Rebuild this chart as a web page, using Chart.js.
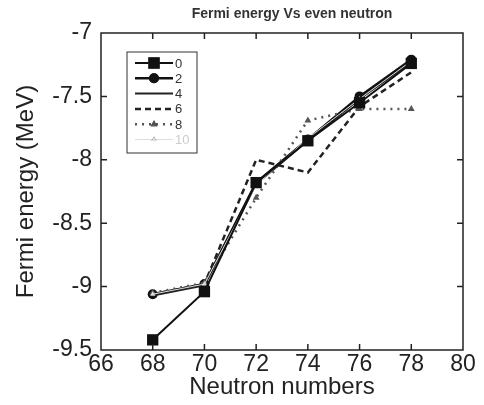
<!DOCTYPE html>
<html>
<head>
<meta charset="utf-8">
<script src="https://cdn.jsdelivr.net/npm/chart.js@4.4.0/dist/chart.umd.min.js"></script>
<style>
  html, body { margin: 0; padding: 0; background: #fff; }
  #wrap { width: 484px; height: 405px; }
</style>
</head>
<body>
<div id="wrap"><canvas id="fermi-chart"></canvas></div>
<script>
// neutron numbers on the x axis
const neutrons = [68, 70, 72, 74, 76, 78];
// one curve per legend entry
const seriesLabels = ['0', '2', '4', '6', '8', '10'];
const fermi0 = [-9.42, -9.04, -8.18, -7.85, -7.55, -7.24];
const fermi2 = [-9.06, -8.98, -8.18, -7.84, -7.50, -7.21];
const fermi4 = [-9.07, -8.99, -8.19, -7.85, -7.52, -7.23];
const fermi6 = [-9.06, -8.98, -8.00, -8.10, -7.58, -7.31];
const fermi8 = [-9.05, -8.97, -8.30, -7.69, -7.60, -7.60];
const fermi10 = [-9.06, -8.98, -8.20, -7.83, -7.52, -7.22];
const xTicks = [66, 68, 70, 72, 74, 76, 78, 80];
const yTicks = [-9.5, -9, -8.5, -8, -7.5, -7];

const FONT = '"Liberation Sans", Arial, sans-serif';

function points(values) {
  return neutrons.map((n, i) => ({ x: n, y: values[i] }));
}

const datasets = [
  { label: seriesLabels[0], data: points(fermi0), borderColor: '#111', backgroundColor: '#111',
    borderWidth: 2, pointStyle: 'rect', pointRadius: 8, borderDash: [] },
  { label: seriesLabels[1], data: points(fermi2), borderColor: '#111', backgroundColor: '#111',
    borderWidth: 2.5, pointStyle: 'circle', pointRadius: 5, borderDash: [] },
  { label: seriesLabels[2], data: points(fermi4), borderColor: '#222', backgroundColor: '#222',
    borderWidth: 2, pointRadius: 0, borderDash: [] },
  { label: seriesLabels[3], data: points(fermi6), borderColor: '#222', backgroundColor: '#222',
    borderWidth: 2.5, pointRadius: 0, borderDash: [6, 4] },
  { label: seriesLabels[4], data: points(fermi8), borderColor: '#555', backgroundColor: '#555',
    borderWidth: 2.5, pointStyle: 'triangle', pointRadius: 4, borderDash: [2, 5] },
  { label: seriesLabels[5], data: points(fermi10), borderColor: '#ddd', backgroundColor: '#ddd',
    borderWidth: 1, pointStyle: 'triangle', pointRadius: 3, borderDash: [] }
].map(d => Object.assign({ fill: false, tension: 0, pointBorderWidth: 0 }, d));

// draw order: light curve first, squares last
datasets.forEach((d, i) => { d.order = i === 0 ? 0 : 10 - i; });

// box, inward ticks, title and inset legend
const framePlugin = {
  id: 'frame',
  afterDraw(chart) {
    const ctx = chart.ctx;
    const a = chart.chartArea;
    const xs = chart.scales.x, ys = chart.scales.y;
    ctx.save();
    ctx.strokeStyle = '#222';
    ctx.lineWidth = 1.5;
    ctx.setLineDash([]);
    ctx.strokeRect(a.left, a.top, a.right - a.left, a.bottom - a.top);
    const tl = 6;
    ctx.beginPath();
    xTicks.slice(1, -1).forEach(v => {
      const px = xs.getPixelForValue(v);
      ctx.moveTo(px, a.bottom); ctx.lineTo(px, a.bottom - tl);
      ctx.moveTo(px, a.top); ctx.lineTo(px, a.top + tl);
    });
    yTicks.slice(1, -1).forEach(v => {
      const py = ys.getPixelForValue(v);
      ctx.moveTo(a.left, py); ctx.lineTo(a.left + tl, py);
      ctx.moveTo(a.right, py); ctx.lineTo(a.right - tl, py);
    });
    ctx.stroke();

    // title
    ctx.fillStyle = '#333';
    ctx.font = 'bold 14px ' + FONT;
    ctx.textAlign = 'center';
    ctx.textBaseline = 'middle';
    ctx.fillText('Fermi energy Vs even neutron', 292, 14);

    // legend
    const bx = a.left + 26, by = a.top + 19, bw = 70, bh = 101;
    ctx.lineWidth = 1;
    ctx.strokeStyle = '#333';
    ctx.strokeRect(bx, by, bw, bh);
    ctx.font = '13px ' + FONT;
    ctx.textAlign = 'left';
    chart.data.datasets.forEach((d, i) => {
      const y = by + 11 + i * 15.3;
      ctx.strokeStyle = d.borderColor;
      ctx.lineWidth = d.borderWidth;
      ctx.setLineDash(d.borderDash);
      ctx.beginPath();
      ctx.moveTo(bx + 8, y); ctx.lineTo(bx + 46, y);
      ctx.stroke();
      ctx.setLineDash([]);
      if (d.pointRadius > 0) {
        Chart.helpers.drawPoint(ctx, {
          pointStyle: d.pointStyle, radius: d.pointRadius, rotation: 0, borderWidth: 0
        }, bx + 27, y);
        ctx.fillStyle = d.backgroundColor;
        ctx.fill();
      }
      ctx.fillStyle = i === 5 ? '#ccc' : '#333';
      ctx.fillText(d.label, bx + 48, y + 1);
    });
    ctx.restore();
  }
};

const ctx = document.getElementById('fermi-chart').getContext('2d');
const fermiChart = new Chart(ctx, {
  type: 'line',
  data: { datasets: datasets },
  options: {
    responsive: true,
    maintainAspectRatio: false,
    animation: false,
    layout: { padding: { top: 33, right: 21, left: 0, bottom: 0 } },
    plugins: {
      legend: { display: false },
      title: { display: false },
      tooltip: { enabled: false }
    },
    scales: {
      x: {
        type: 'linear',
        min: 66,
        max: 80,
        afterBuildTicks: s => { s.ticks = xTicks.map(v => ({ value: v })); },
        grid: { display: false, drawTicks: false },
        border: { display: false },
        ticks: { color: '#222', font: { family: FONT, size: 23 }, padding: 1, maxRotation: 0 },
        title: {
          display: true,
          text: 'Neutron numbers',
          color: '#222',
          font: { family: FONT, size: 24 },
          padding: { top: 0, bottom: 3 }
        },
        afterFit: s => { s.height = 55; }
      },
      y: {
        type: 'linear',
        min: -9.5,
        max: -7,
        afterBuildTicks: s => { s.ticks = yTicks.map(v => ({ value: v })); },
        grid: { display: false, drawTicks: false },
        border: { display: false },
        ticks: {
          color: '#222',
          font: { family: FONT, size: 23 },
          padding: 9,
          callback: v => String(v)
        },
        title: {
          display: true,
          text: 'Fermi energy (MeV)',
          color: '#222',
          font: { family: FONT, size: 24 },
          padding: { top: 12, bottom: 0 }
        },
        afterFit: s => { s.width = 101; }
      }
    }
  },
  plugins: [framePlugin]
});
</script>
</body>
</html>
